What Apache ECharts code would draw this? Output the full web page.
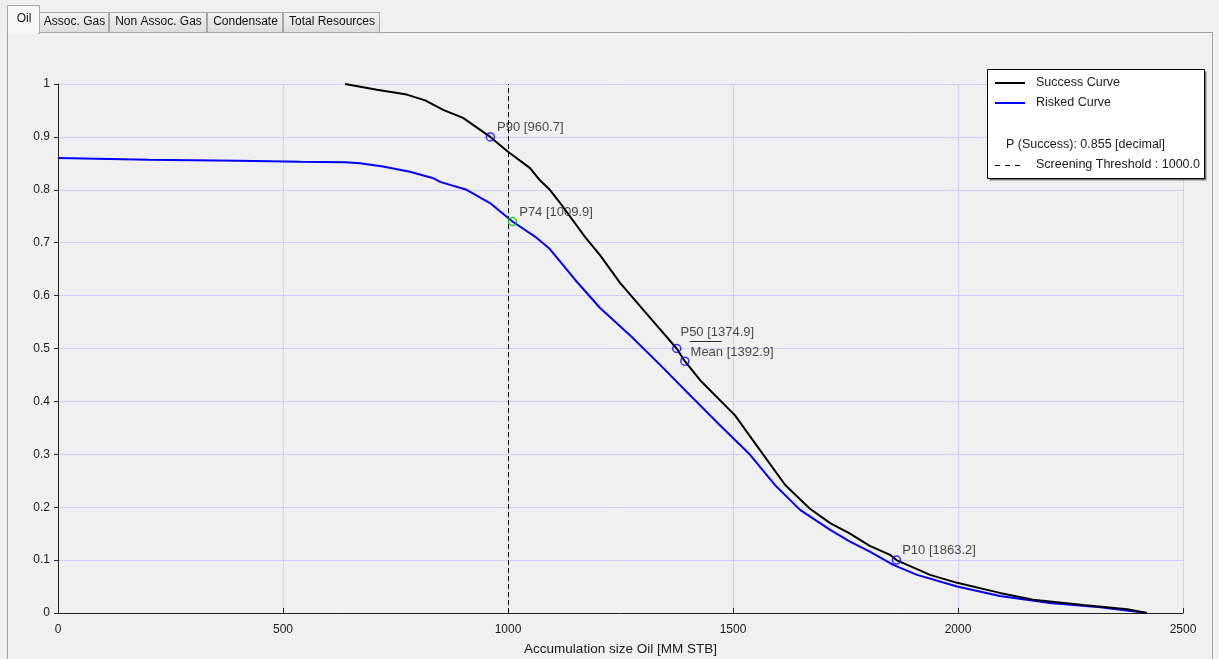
<!DOCTYPE html>
<html>
<head>
<meta charset="utf-8">
<script src="https://cdn.jsdelivr.net/npm/echarts@6/dist/echarts.min.js"></script>
<style>
html,body{margin:0;padding:0;background:#f0f0f0;}
#c{width:1219px;height:659px;}
</style>
</head>
<body>
<div id="c"></div>
<script>
// ---- data ----
var tabNames = ['Oil', 'Assoc. Gas', 'Non Assoc. Gas', 'Condensate', 'Total Resources'];
var xAxisTitle = 'Accumulation size Oil [MM STB]';
var successName = 'Success Curve';
var riskedName = 'Risked Curve';
var pSuccessText = 'P (Success): 0.855 [decimal]';
var thresholdText = 'Screening Threshold : 1000.0';
var threshold = 1000;

var successX = [638, 709, 775, 816, 856, 900, 960.7, 1000, 1049, 1071, 1093, 1116, 1171, 1204, 1249, 1316, 1374.9, 1392.9, 1427, 1504, 1560, 1616, 1671, 1716, 1760, 1804, 1849, 1863.2, 1938, 1998, 2093, 2167, 2278, 2376, 2420];
var successY = [1.0, 0.989, 0.980, 0.969, 0.951, 0.936, 0.900, 0.872, 0.841, 0.818, 0.800, 0.775, 0.711, 0.677, 0.624, 0.558, 0.500, 0.476, 0.440, 0.374, 0.308, 0.242, 0.197, 0.170, 0.150, 0.127, 0.110, 0.100, 0.072, 0.057, 0.038, 0.025, 0.015, 0.007, 0.0];

var riskedX = [0, 200, 400, 538, 638, 671, 722, 782, 834, 849, 908, 960, 1009.9, 1064, 1093, 1149, 1204, 1271, 1338, 1404, 1471, 1538, 1593, 1649, 1716, 1760, 1804, 1856, 1909, 1998, 2093, 2204, 2316, 2420];
var riskedY = [0.860, 0.857, 0.855, 0.853, 0.852, 0.850, 0.844, 0.834, 0.822, 0.815, 0.800, 0.775, 0.740, 0.709, 0.688, 0.630, 0.577, 0.525, 0.469, 0.412, 0.355, 0.299, 0.242, 0.195, 0.157, 0.135, 0.116, 0.091, 0.072, 0.050, 0.032, 0.019, 0.011, 0.0];

var markerNames = ['P90', 'P74', 'P50', 'Mean', 'P10'];
var markerX = [960.7, 1009.9, 1374.9, 1392.9, 1863.2];
var markerY = [0.900, 0.740, 0.500, 0.476, 0.100];

// ---- styling ----
var FONT = 'Liberation Sans, Arial, sans-serif';
var TXT = '#1a1a1a';
var GRID = '#cfcffc';
var markerStyle = {
  'P90': {color: '#0000ff', off: [0, -9]},
  'P74': {color: '#00c800', off: [0, -9]},
  'P50': {color: '#0000ff', off: [-3, -16]},
  'Mean': {color: '#0000ff', off: [-1, -9]},
  'P10': {color: '#0000ff', off: [-1, -10]}
};

function zip(xs, ys) { return xs.map(function (x, i) { return [x, ys[i]]; }); }

var markerData = markerNames.map(function (n, i) {
  var s = markerStyle[n];
  return {
    name: n,
    value: [markerX[i], markerY[i]],
    itemStyle: {color: 'rgba(0,0,0,0)', borderColor: s.color, borderWidth: 1.5},
    label: {offset: s.off}
  };
});

// tabs & panel graphic
var tabX = [7, 39, 109, 207, 283, 380];
var deco = [];
deco.push({type: 'polyline', z: 1, shape: {points: [[7.5, 659], [7.5, 32.5], [1212.5, 32.5], [1212.5, 659]]}, style: {fill: null, stroke: '#a0a0a0', lineWidth: 1}});
for (var i = tabNames.length - 1; i >= 0; i--) {
  var sel = i === 0;
  var x0 = tabX[i], x1 = tabX[i + 1] - (sel ? 0 : 1);
  var tabTop = sel ? 5 : 12;
  deco.push({
    type: 'rect', z: sel ? 3 : 2,
    shape: {x: x0 + 0.5, y: tabTop + 0.5, width: x1 - x0, height: (sel ? 33 : 32) - tabTop},
    style: {
      fill: sel ? '#f7f7f7' : new echarts.graphic.LinearGradient(0, 0, 0, 1, [{offset: 0, color: '#f3f3f3'}, {offset: 1, color: '#dcdcdc'}]),
      stroke: '#a6a6a6', lineWidth: 1
    }
  });
  deco.push({
    type: 'text', z: 4,
    style: {text: tabNames[i], x: (x0 + x1) / 2 + 1, y: sel ? 19 : 22, align: 'center', verticalAlign: 'middle', font: '12px ' + FONT, fill: '#111'}
  });
}
deco.push({type: 'line', z: 4, shape: {x1: 8, y1: 33.5, x2: 38, y2: 33.5}, style: {stroke: '#f7f7f7', lineWidth: 2}});

// legend box graphic
var LX = 987, LY = 69, LF = '12.5px ' + FONT;
deco.push(
  {type: 'rect', z: 20, shape: {x: LX + 2.5, y: LY + 2.5, width: 217, height: 109}, style: {fill: '#7a7a7a'}},
  {type: 'rect', z: 21, shape: {x: LX + 0.5, y: LY + 0.5, width: 217, height: 109}, style: {fill: '#ffffff', stroke: '#000', lineWidth: 1}},
  {type: 'line', z: 22, shape: {x1: LX + 8, y1: LY + 14, x2: LX + 38, y2: LY + 14}, style: {stroke: '#000', lineWidth: 2}},
  {type: 'text', z: 22, style: {text: successName, x: LX + 49, y: LY + 14, verticalAlign: 'middle', font: LF, fill: TXT}},
  {type: 'line', z: 22, shape: {x1: LX + 8, y1: LY + 34, x2: LX + 38, y2: LY + 34}, style: {stroke: '#0000ff', lineWidth: 2}},
  {type: 'text', z: 22, style: {text: riskedName, x: LX + 49, y: LY + 34, verticalAlign: 'middle', font: LF, fill: TXT}},
  {type: 'text', z: 22, style: {text: pSuccessText, x: LX + 19, y: LY + 76, verticalAlign: 'middle', font: LF, fill: TXT}},
  {type: 'line', z: 22, shape: {x1: LX + 8, y1: LY + 96.5, x2: LX + 38, y2: LY + 96.5}, style: {stroke: '#000', lineWidth: 1, lineDash: [5, 5]}},
  {type: 'text', z: 22, style: {text: thresholdText, x: LX + 49, y: LY + 96, verticalAlign: 'middle', font: LF, fill: TXT}}
);

var plain = function (v) { return String(v); };

var chart = echarts.init(document.getElementById('c'), null, {renderer: 'canvas'});
chart.setOption({
  animation: false,
  backgroundColor: '#f0f0f0',
  textStyle: {fontFamily: FONT},
  grid: {left: 58, top: 84, width: 1125, height: 529, containLabel: false, outerBoundsMode: 'none'},
  xAxis: {
    type: 'value', min: 0, max: 2500, interval: 500,
    name: xAxisTitle, nameLocation: 'middle', nameGap: 29,
    nameTextStyle: {fontSize: 13.5, color: TXT, fontFamily: FONT},
    axisLine: {show: true, onZero: false, lineStyle: {color: '#222', width: 1}},
    axisTick: {show: true, inside: true, length: 5, lineStyle: {color: '#222'}},
    axisLabel: {fontSize: 12, color: TXT, margin: 11, fontFamily: FONT, formatter: plain},
    splitLine: {show: true, showMinLine: false, showMaxLine: true, lineStyle: {color: GRID, width: 1}}
  },
  yAxis: {
    type: 'value', min: 0, max: 1, interval: 0.1,
    axisLine: {show: true, onZero: false, lineStyle: {color: '#222', width: 1}},
    axisTick: {show: true, inside: false, length: 4, lineStyle: {color: '#222'}},
    axisLabel: {fontSize: 12, color: TXT, margin: 8, fontFamily: FONT, formatter: plain},
    splitLine: {show: true, showMinLine: false, showMaxLine: true, lineStyle: {color: GRID, width: 1}}
  },
  series: [
    {
      name: successName, type: 'line', data: zip(successX, successY), showSymbol: false, z: 3,
      lineStyle: {color: '#000', width: 2}, itemStyle: {color: '#000'},
      markLine: {
        silent: true, symbol: 'none', label: {show: false},
        lineStyle: {color: '#000', width: 1, type: [5, 3]},
        data: [[{coord: [threshold, 0]}, {coord: [threshold, 1]}]]
      }
    },
    {
      name: riskedName, type: 'line', data: zip(riskedX, riskedY), showSymbol: false, z: 2,
      lineStyle: {color: '#0000ff', width: 2}, itemStyle: {color: '#0000ff'}
    },
    {
      name: 'markers', type: 'scatter', data: markerData, symbol: 'circle', symbolSize: 8, z: 5,
      label: {
        show: true, position: 'right', distance: 2, fontSize: 13, color: TXT, fontFamily: FONT,
        formatter: function (p) { return p.name + ' [' + p.value[0].toFixed(1) + ']'; }
      }
    }
  ],
  graphic: {elements: deco}
});

// short rule under the P50 label, as in the original
var p50 = chart.convertToPixel({gridIndex: 0}, [markerX[2], markerY[2]]);
chart.setOption({graphic: {elements: deco.concat([
  {type: 'line', z: 6, shape: {x1: p50[0] + 13, y1: Math.round(p50[1]) - 7.5, x2: p50[0] + 45, y2: Math.round(p50[1]) - 7.5}, style: {stroke: '#333', lineWidth: 1}}
])}});
</script>
</body>
</html>
